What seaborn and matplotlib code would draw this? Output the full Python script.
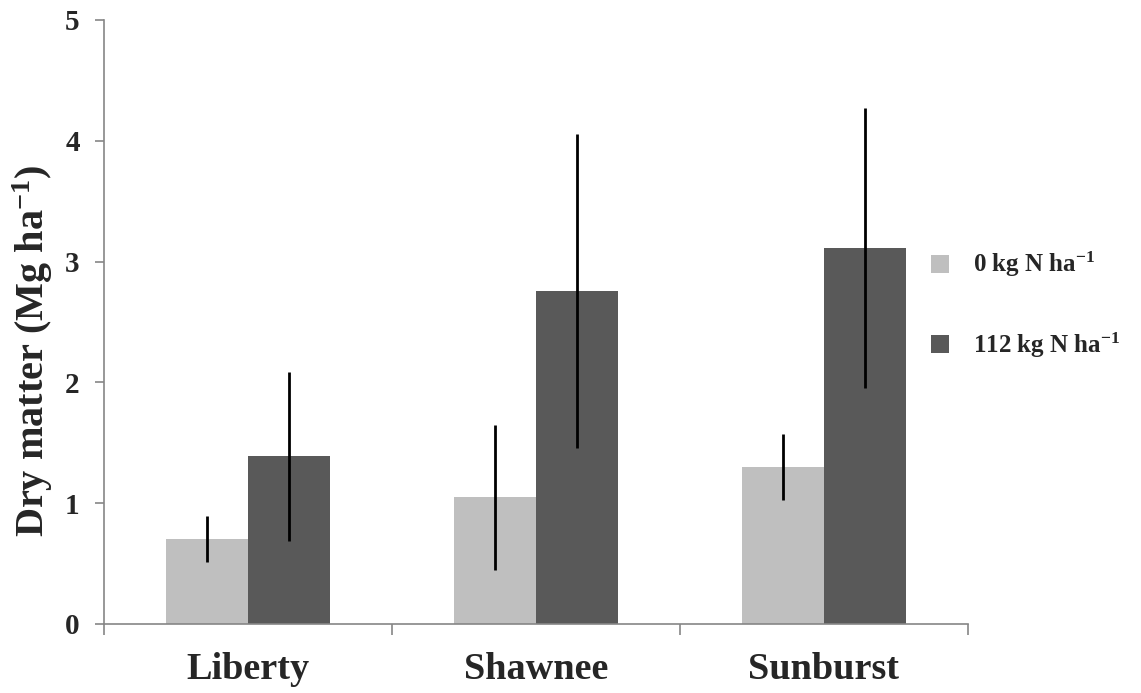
import pandas as pd
import numpy as np
import seaborn as sns
import matplotlib.pyplot as plt
from matplotlib.patches import Patch

# Data
cultivars = ['Liberty', 'Shawnee', 'Sunburst']
treatments = ['0 kg N ha$^{-1}$', '112 kg N ha$^{-1}$']
dm_0n = [0.70, 1.05, 1.30]
dm_112n = [1.39, 2.76, 3.11]
err_0n = [0.19, 0.60, 0.27]
err_112n = [0.70, 1.30, 1.16]
colors = ['#bfbfbf', '#595959']

df = pd.DataFrame({
    'cultivar': cultivars * 2,
    'treatment': [treatments[0]] * 3 + [treatments[1]] * 3,
    'dm': dm_0n + dm_112n,
    'err': err_0n + err_112n,
})

sns.set_style('white')
plt.rcParams['font.family'] = ['Liberation Serif', 'DejaVu Serif']
plt.rcParams['font.weight'] = 'bold'
plt.rcParams['mathtext.default'] = 'regular'

fig = plt.figure(figsize=(11.41, 6.93), dpi=100)
ax = fig.add_axes([104 / 1141, 1 - 624 / 693, 864 / 1141, 604 / 693])

sns.barplot(data=df, x='cultivar', y='dm', hue='treatment', palette=colors,
            width=0.57, errorbar=None, saturation=1, linewidth=0, ax=ax, legend=False)

# error bars at the bar centres
for bars, (_, sub) in zip(ax.containers, df.groupby('treatment', sort=False)):
    xs = [b.get_x() + b.get_width() / 2 for b in bars]
    ax.errorbar(xs, sub['dm'], yerr=sub['err'], fmt='none', ecolor='black',
                elinewidth=2, capsize=0)

ax.set_ylim(0, 5)
ax.set_xlim(-0.5, 2.5)
ax.set_yticks(range(6))
ax.set_xlabel('')
ax.set_ylabel('Dry matter (Mg ha$^{-1}$)', fontsize=29, fontweight='bold')
ax.yaxis.set_label_coords(-0.057, 0.453)

for side in ['top', 'right']:
    ax.spines[side].set_visible(False)
for side in ['left', 'bottom']:
    ax.spines[side].set_color('#868686')
    ax.spines[side].set_linewidth(1.2)

ax.tick_params(axis='y', direction='out', length=6.5, width=1.2, color='#868686',
               pad=11, labelsize=21, left=True)
ax.tick_params(axis='x', which='major', length=0, pad=20, labelsize=27.5)
ax.set_xticks([-0.5, 0.5, 1.5, 2.5], minor=True)
ax.tick_params(axis='x', which='minor', direction='out', length=8, width=1.2,
               color='#868686', bottom=True)
for lbl in ax.get_xticklabels() + ax.get_yticklabels():
    lbl.set_fontweight('bold')

handles = [Patch(facecolor=c, edgecolor='none') for c in colors]
fig.legend(handles, treatments, loc='center left', bbox_to_anchor=(908 / 1141, 1 - 305 / 693),
           frameon=False, handlelength=0.75, handleheight=0.75,
           handletextpad=0.95, labelspacing=2.05, prop={'weight': 'bold', 'size': 18})

fig.savefig('out.png', dpi=100)
